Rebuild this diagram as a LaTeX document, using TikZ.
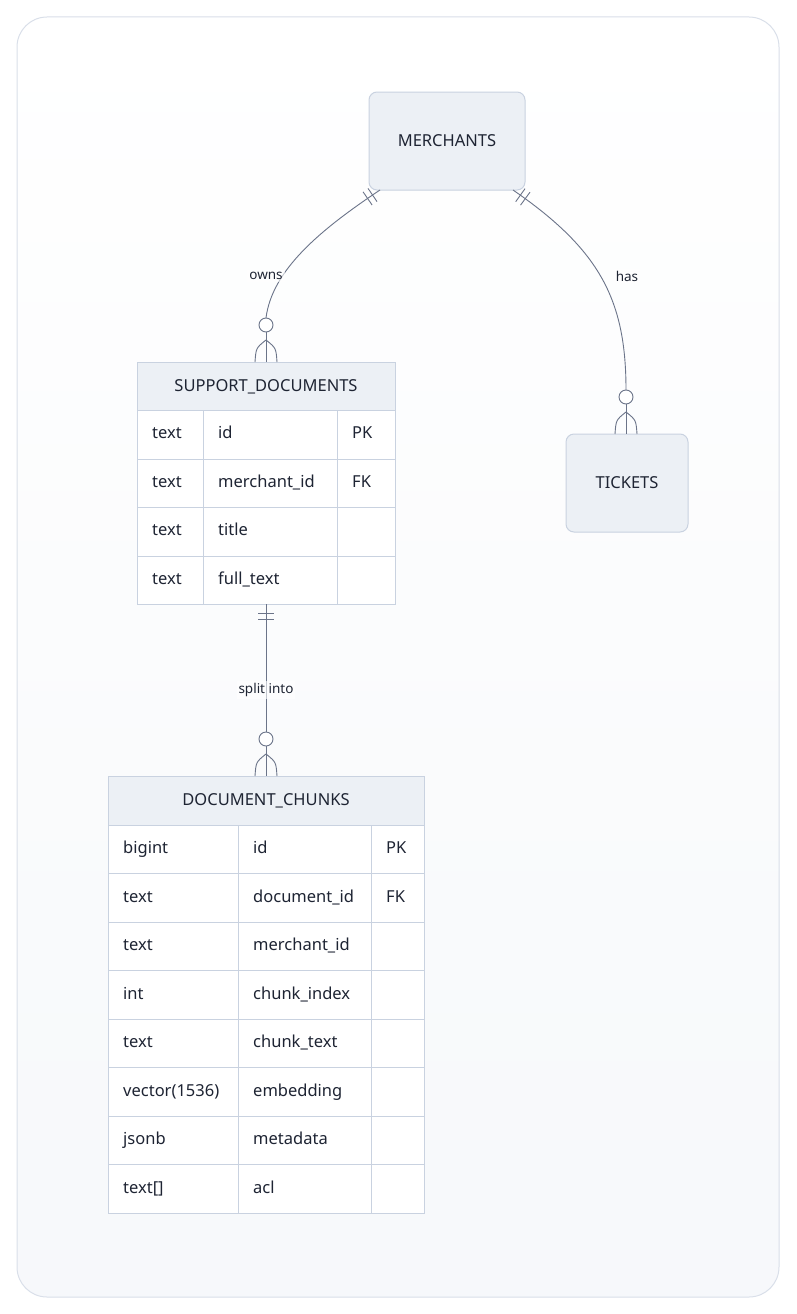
\documentclass[tikz,border=0pt]{standalone}
\usepackage{fontspec}
\setmainfont{Noto Sans}
\usetikzlibrary{decorations.markings}
\definecolor{ln}{HTML}{6B7489}
\definecolor{bd}{HTML}{C9D2E0}
\definecolor{hd}{HTML}{ECF0F5}
\definecolor{tx}{HTML}{1E2433}
\begin{document}
\begin{tikzpicture}[x=1pt,y=-1pt,
  every node/.style={text=tx,font=\fontsize{16.5}{19}\selectfont},
  ent/.style={draw=bd,fill=hd,rounded corners=8pt,line width=1pt},
  lbl/.style={font=\fontsize{13.5}{15}\selectfont,fill=white,fill opacity=0.6,text opacity=1,inner sep=2pt},
  rel/.style={draw=ln,line width=0.9pt},
  one/.style={postaction={decorate},decoration={markings,
     mark=at position 9pt with {\draw[ln,line width=0.9pt] (0,-8pt)--(0,8pt);},
     mark=at position 15pt with {\draw[ln,line width=0.9pt] (0,-8pt)--(0,8pt);}}},
  zm/.pic={\draw[ln,line width=0.9pt,fill=white] (0,-37) circle (7);
           \draw[ln,line width=0.9pt] (0,-30)--(0,0);
           \draw[ln,line width=0.9pt] (0,-22) .. controls (-10,-14) .. (-11,0);
           \draw[ln,line width=0.9pt] (0,-22) .. controls (10,-14) .. (11,0);},
  cell/.style={anchor=west,inner sep=0pt,text height=12pt,text depth=3.5pt}]
\useasboundingbox (0,0) rectangle (796,1314);
\shade[top color=white,bottom color=hd!45,rounded corners=30pt]
  (17,17) rectangle (779,1297);
\draw[bd!70,line width=1pt,rounded corners=30pt] (17,17) rectangle (779,1297);

% entities
\node[ent,minimum width=156pt,minimum height=98pt] (merch) at (447,141) {MERCHANTS};
\node[ent,minimum width=122pt,minimum height=98pt] (tick) at (627,483) {TICKETS};

% SUPPORT_DOCUMENTS
\fill[white] (137,410) rectangle (395,604);
\node[draw=bd,fill=hd,line width=1pt,minimum width=258pt,minimum height=48pt,anchor=north west,inner sep=0pt] (sdh) at (137,362) {};
\node[cell,anchor=center] (sdt) at (266,387) {SUPPORT\_DOCUMENTS};
\draw[bd,line width=1pt] (137,410) rectangle (395,604);
\foreach \y in {459,507,556} \draw[bd,line width=1pt] (137,\y)--(395,\y);
\draw[bd,line width=1pt] (203,410)--(203,604) (337,410)--(337,604);
\foreach \t/\n/\k [count=\i] in {text/id/PK,text/merchant\_id/FK,text/title/,text/full\_text/}{
  \pgfmathsetmacro\yy{410+48.5*(\i-0.5)}
  \node[cell] (sda\i) at (152,\yy) {\t};
  \node[cell] (sdb\i) at (218,\yy) {\n};
  \node[cell] (sdc\i) at (352,\yy) {\k};
}

% DOCUMENT_CHUNKS
\fill[white] (108,825) rectangle (424,1213);
\node[draw=bd,fill=hd,line width=1pt,minimum width=316pt,minimum height=49pt,anchor=north west,inner sep=0pt] (dch) at (108,776) {};
\node[cell,anchor=center] (dct) at (266,801) {DOCUMENT\_CHUNKS};
\draw[bd,line width=1pt] (108,825) rectangle (424,1213);
\foreach \i in {1,...,7} \draw[bd,line width=1pt] (108,825+48.5*\i)--(424,825+48.5*\i);
\draw[bd,line width=1pt] (238,825)--(238,1213) (371,825)--(371,1213);
\foreach \t/\n/\k [count=\i] in {bigint/id/PK,text/document\_id/FK,text/merchant\_id/,int/chunk\_index/,text/chunk\_text/,vector(1536)/embedding/,jsonb/metadata/,text[]/acl/}{
  \pgfmathsetmacro\yy{825+48.5*(\i-0.5)}
  \node[cell] (dca\i) at (123,\yy) {\t};
  \node[cell] (dcb\i) at (253,\yy) {\n};
  \node[cell] (dcc\i) at (386,\yy) {\k};
}

% relationships
\coordinate (o1) at (380,190);
\coordinate (o2) at (266,318);
\draw[rel,one] (o1) .. controls (320,230) and (272,270) .. (o2);
\pic at (266,362) {zm};
\node[lbl] (lo) at (266,276) {owns};

\coordinate (h1) at (513,190);
\coordinate (h2) at (626,390);
\draw[rel,one] (h1) .. controls (600,250) and (626,300) .. (h2);
\pic at (626,434) {zm};
\node[lbl] (lh) at (627,276) {has};

\coordinate (s1) at (266,604);
\coordinate (s2) at (266,733);
\draw[rel,one] (s1) -- (s2);
\pic at (266,776) {zm};
\node[lbl] (ls) at (266,690) {split into};
\end{tikzpicture}
\end{document}
